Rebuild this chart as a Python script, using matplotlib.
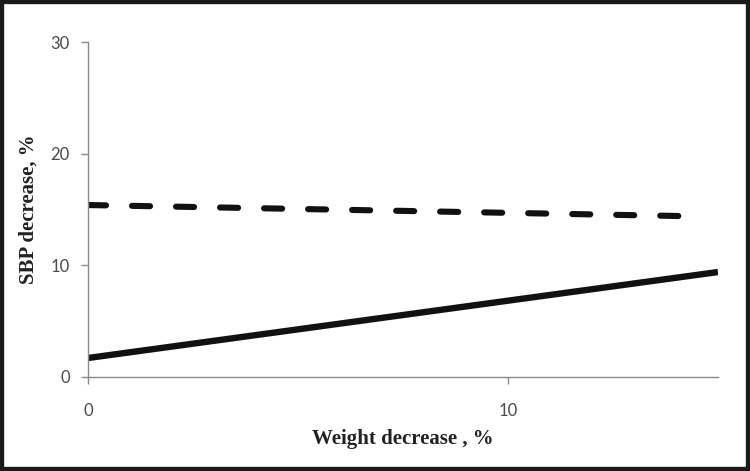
import matplotlib
matplotlib.use("Agg")
import matplotlib.pyplot as plt
from matplotlib.patches import Rectangle

plt.rcParams["lines.scale_dashes"] = False

# data
weight_x = [0, 15]
sbp_solid = [1.7, 9.4]
dash_x = [0, 14.3]
sbp_dashed = [15.4, 14.4]

x_ticks = [0, 10]
y_ticks = [0, 10, 20, 30]

AXIS = "#8a8a8a"
TICK_TXT = "#4a4a4a"

fig = plt.figure(figsize=(7.5, 4.71), dpi=100)
fig.patch.set_facecolor("white")
ax = fig.add_axes([0.1173, 0.1996, 0.84, 0.7112])

ax.plot(weight_x, sbp_solid, "-", color="#111111", lw=4.6, solid_capstyle="butt")
# dash lengths in points (round caps add half a line width at each end)
ax.plot(dash_x, sbp_dashed, color="#111111", lw=4.4,
        dashes=(13.0, 18.7), dash_capstyle="round")

ax.set_xlim(0, 15)
ax.set_ylim(0, 30)
ax.set_xticks(x_ticks)
ax.set_yticks(y_ticks)

for s in ["top", "right"]:
    ax.spines[s].set_visible(False)
for s in ["bottom", "left"]:
    ax.spines[s].set_color(AXIS)
    ax.spines[s].set_linewidth(1.0)

ax.tick_params(axis="y", colors=AXIS, length=5, width=1.0, pad=8,
               labelcolor=TICK_TXT, labelsize=12)
ax.tick_params(axis="x", colors=AXIS, length=5, width=1.0, pad=14,
               labelcolor=TICK_TXT, labelsize=12)
for lab in ax.get_xticklabels() + ax.get_yticklabels():
    lab.set_family("Lato")

ax.set_xlabel("Weight decrease , %", family="Liberation Serif", weight="bold",
              fontsize=15, color="#222222", labelpad=7)
ax.set_ylabel("SBP decrease, %", family="Liberation Serif", weight="bold",
              fontsize=15, color="#222222", labelpad=9)

# dark frame round the picture
fig.patches.append(Rectangle((0.0, 0.0), 1, 1, transform=fig.transFigure,
                             fill=False, edgecolor="#1a1a1a", lw=6))

fig.savefig("out.png", dpi=100)
